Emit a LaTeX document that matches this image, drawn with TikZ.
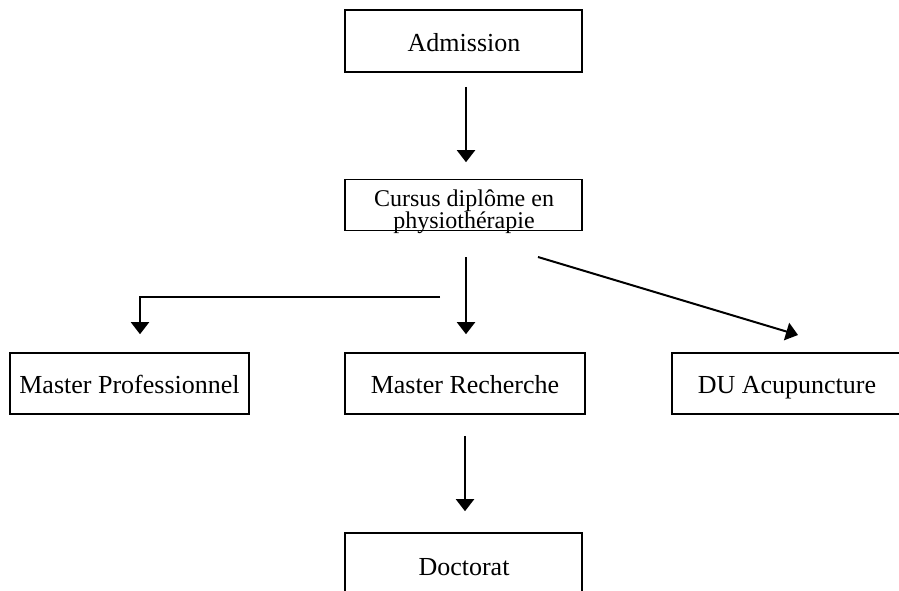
\documentclass[tikz,border=0pt]{standalone}
\usepackage{fontspec}
\setmainfont{Liberation Serif}
\usetikzlibrary{arrows.meta}
\begin{document}
\begin{tikzpicture}[x=1pt,y=-1pt,
  box/.style={draw,line width=1.6pt,rectangle,inner sep=0pt},
  txt/.style={anchor=base,inner sep=0pt,font=\fontsize{26}{22}\selectfont},
  smalltxt/.style={txt,font=\fontsize{24}{22}\selectfont},
  conn/.style={line width=2pt,-{Triangle[width=18pt,length=12pt]}}]
\useasboundingbox (0,0) rectangle (899,591);
\clip (0,0) rectangle (899,591);
\fill[white] (0,0) rectangle (899,591);
\node[box,minimum width=237pt,minimum height=62pt] (adm) at (463.5,41) {};
\node[box,minimum width=237pt,minimum height=51pt] (cur) at (463.5,205) {};
\node[box,minimum width=239pt,minimum height=61pt] (mp) at (129.5,383.5) {};
\node[box,minimum width=240pt,minimum height=61pt] (mr) at (465,383.5) {};
\node[box,minimum width=230pt,minimum height=61pt] (du) at (787,383.5) {};
\node[box,minimum width=237pt,minimum height=65pt] (doc) at (463.5,565.5) {};
\node[txt] (admt) at (464,52) {Admission};
\node[smalltxt] (curt1) at (464,206) {Cursus diplôme en};
\node[smalltxt] (curt2) at (464,228.5) {physiothérapie};
\node[txt] (mpt) at (129.5,393) {Master Professionnel};
\node[txt] (mrt) at (465,393) {Master Recherche};
\node[txt] (dut) at (787,393) {DU Acupuncture};
\node[txt] (doct) at (464,575) {Doctorat};
\coordinate (m1) at (466,257);
\coordinate (e1) at (440,297);
\coordinate (d1) at (538,257);
\coordinate (d2) at (798,335);
\draw[conn,shorten <=14pt,shorten >=16.5pt] ([xshift=2.5pt]adm.south) -- ([xshift=2.5pt]cur.north);
\draw[conn,shorten >=18pt] (m1) -- (m1 |- mr.north);
\draw[conn,shorten >=18pt] (e1) -| ([xshift=10.5pt]mp.north);
\draw[conn] (d1) -- (d2);
\draw[conn,shorten <=21pt,shorten >=21pt] (mr.south) -- (doc.north -| mr.south);
\end{tikzpicture}
\end{document}
